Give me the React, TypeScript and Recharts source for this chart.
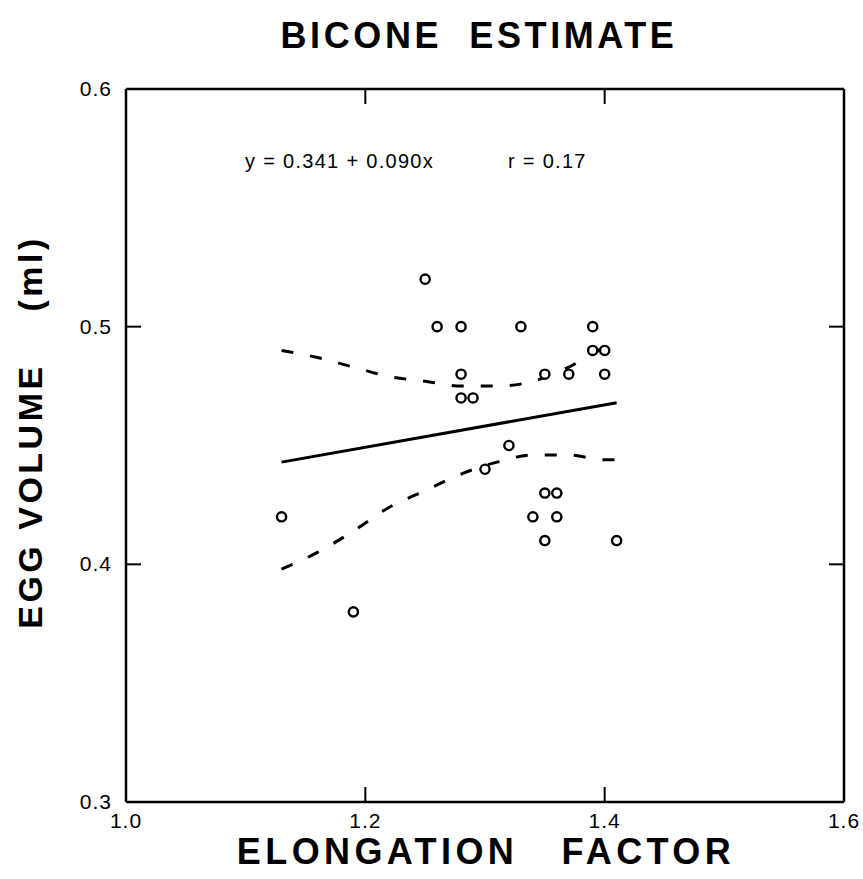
import { ComposedChart, Scatter, Line, XAxis, YAxis, ReferenceLine } from "recharts";

// Observed eggs: elongation factor vs egg volume (ml)
const elongation = [1.13, 1.19, 1.25, 1.26, 1.28, 1.28, 1.28, 1.29, 1.30, 1.32, 1.33, 1.34, 1.35, 1.36, 1.35, 1.35, 1.36, 1.37, 1.39, 1.39, 1.40, 1.40, 1.41];
const volume = [0.42, 0.38, 0.52, 0.50, 0.50, 0.48, 0.47, 0.47, 0.44, 0.45, 0.50, 0.42, 0.43, 0.43, 0.48, 0.41, 0.42, 0.48, 0.50, 0.49, 0.49, 0.48, 0.41];

// Regression line end points
const fitX = [1.13, 1.41];
const fitY = [0.443, 0.468];

// Confidence band
const bandX = [1.13, 1.16, 1.19, 1.22, 1.25, 1.28, 1.31, 1.34, 1.37, 1.40, 1.41];
const bandUpper = [0.490, 0.487, 0.483, 0.479, 0.477, 0.475, 0.475, 0.477, 0.483, 0.491, 0.492];
const bandLower = [0.398, 0.405, 0.414, 0.424, 0.431, 0.438, 0.443, 0.446, 0.446, 0.444, 0.444];

const xTicks = [1.0, 1.2, 1.4, 1.6];
const yTicks = [0.3, 0.4, 0.5, 0.6];

const font = "'Liberation Sans', Arial, Helvetica, sans-serif";

// plot box (from the chart margins below)
const W = 863;
const H = 879;
const M = { top: 89, right: 19, bottom: 37, left: 66 };
const Y_AXIS_W = 60;
const X_AXIS_H = 40;
const PLOT_LEFT = M.left + Y_AXIS_W;
const PLOT_RIGHT = W - M.right;
const PLOT_TOP = M.top;
const PLOT_BOTTOM = H - M.bottom - X_AXIS_H;
const TICK = 15;

const toPoints = (xs: number[], ys: number[]) => xs.map((x, i) => ({ x, y: ys[i] }));

const points = toPoints(elongation, volume);
const fit = toPoints(fitX, fitY);
const upper = toPoints(bandX, bandUpper);
const lower = toPoints(bandX, bandLower);

const Ring = (props: any) => {
  const { cx, cy } = props;
  if (cx == null || cy == null) return <g />;
  return <circle cx={cx} cy={cy} r={4.6} fill="#fff" stroke="#000" strokeWidth={2.4} />;
};

// tick label plus inward tick marks on both opposite sides of the frame
const XTick = (props: any) => {
  const { x, payload, index } = props;
  const inner = index > 0 && index < xTicks.length - 1;
  return (
    <g>
      {inner && <line x1={x} x2={x} y1={PLOT_BOTTOM} y2={PLOT_BOTTOM - TICK} stroke="#000" strokeWidth={2} />}
      {inner && <line x1={x} x2={x} y1={PLOT_TOP} y2={PLOT_TOP + TICK} stroke="#000" strokeWidth={2} />}
      <text x={x} y={PLOT_BOTTOM + 26} textAnchor="middle" fontSize={21} letterSpacing={1} fontFamily={font} fill="#000">
        {Number(payload.value).toFixed(1)}
      </text>
    </g>
  );
};

const YTick = (props: any) => {
  const { y, payload, index } = props;
  const inner = index > 0 && index < yTicks.length - 1;
  return (
    <g>
      {inner && <line x1={PLOT_LEFT} x2={PLOT_LEFT + TICK} y1={y} y2={y} stroke="#000" strokeWidth={2} />}
      {inner && <line x1={PLOT_RIGHT} x2={PLOT_RIGHT - TICK} y1={y} y2={y} stroke="#000" strokeWidth={2} />}
      <text x={PLOT_LEFT - 14} y={y + 7} textAnchor="end" fontSize={21} letterSpacing={1} fontFamily={font} fill="#000">
        {Number(payload.value).toFixed(1)}
      </text>
    </g>
  );
};

export default function App() {
  const axisLine = { stroke: "#000", strokeWidth: 2.5 };

  return (
    <div style={{ position: "absolute", left: 0, top: 0, width: W, height: H, background: "#fff", fontFamily: font }}>
      <div style={{ position: "absolute", top: 15, left: 229, width: 500, textAlign: "center", fontSize: 36, fontWeight: "bold", letterSpacing: 3.6, whiteSpace: "pre" }}>
        {"BICONE  ESTIMATE"}
      </div>

      <ComposedChart width={W} height={H} margin={M}>
        <XAxis dataKey="x" type="number" domain={[1.0, 1.6]} ticks={xTicks} allowDataOverflow
          height={X_AXIS_H} tickSize={0} tickLine={false} axisLine={axisLine} tick={<XTick />} />
        <YAxis dataKey="y" type="number" domain={[0.3, 0.6]} ticks={yTicks} allowDataOverflow
          width={Y_AXIS_W} tickSize={0} tickLine={false} axisLine={axisLine} tick={<YTick />} />

        <ReferenceLine y={0.6} stroke="#000" strokeWidth={2.5} />
        <ReferenceLine x={1.6} stroke="#000" strokeWidth={2.5} />

        <Line data={upper} dataKey="y" type="monotone" stroke="#000" strokeWidth={3} strokeDasharray="12 17"
          dot={false} activeDot={false} isAnimationActive={false} />
        <Line data={lower} dataKey="y" type="monotone" stroke="#000" strokeWidth={3} strokeDasharray="12 17"
          dot={false} activeDot={false} isAnimationActive={false} />
        <Line data={fit} dataKey="y" type="linear" stroke="#000" strokeWidth={3}
          dot={false} activeDot={false} isAnimationActive={false} />
        <Scatter data={points} shape={<Ring />} isAnimationActive={false} />
      </ComposedChart>

      <div style={{ position: "absolute", top: 150, left: 245, fontSize: 20, letterSpacing: 1.3, whiteSpace: "pre" }}>
        {"y = 0.341 + 0.090x"}
      </div>
      <div style={{ position: "absolute", top: 150, left: 508, fontSize: 20, letterSpacing: 1.3, whiteSpace: "pre" }}>
        {"r = 0.17"}
      </div>

      <div style={{ position: "absolute", top: 834, left: 186, width: 600, textAlign: "center", fontSize: 36, lineHeight: "36px", fontWeight: "bold", letterSpacing: 4.4, whiteSpace: "pre" }}>
        {"ELONGATION   FACTOR"}
      </div>

      <div style={{ position: "absolute", left: 30, top: 432, width: 0, height: 0 }}>
        <div style={{ position: "absolute", left: -250, top: -20, width: 500, textAlign: "center", fontSize: 34, fontWeight: "bold", letterSpacing: 3.5, whiteSpace: "pre", transform: "rotate(-90deg)", lineHeight: "40px" }}>
          {"EGG VOLUME    (ml)"}
        </div>
      </div>
    </div>
  );
}
